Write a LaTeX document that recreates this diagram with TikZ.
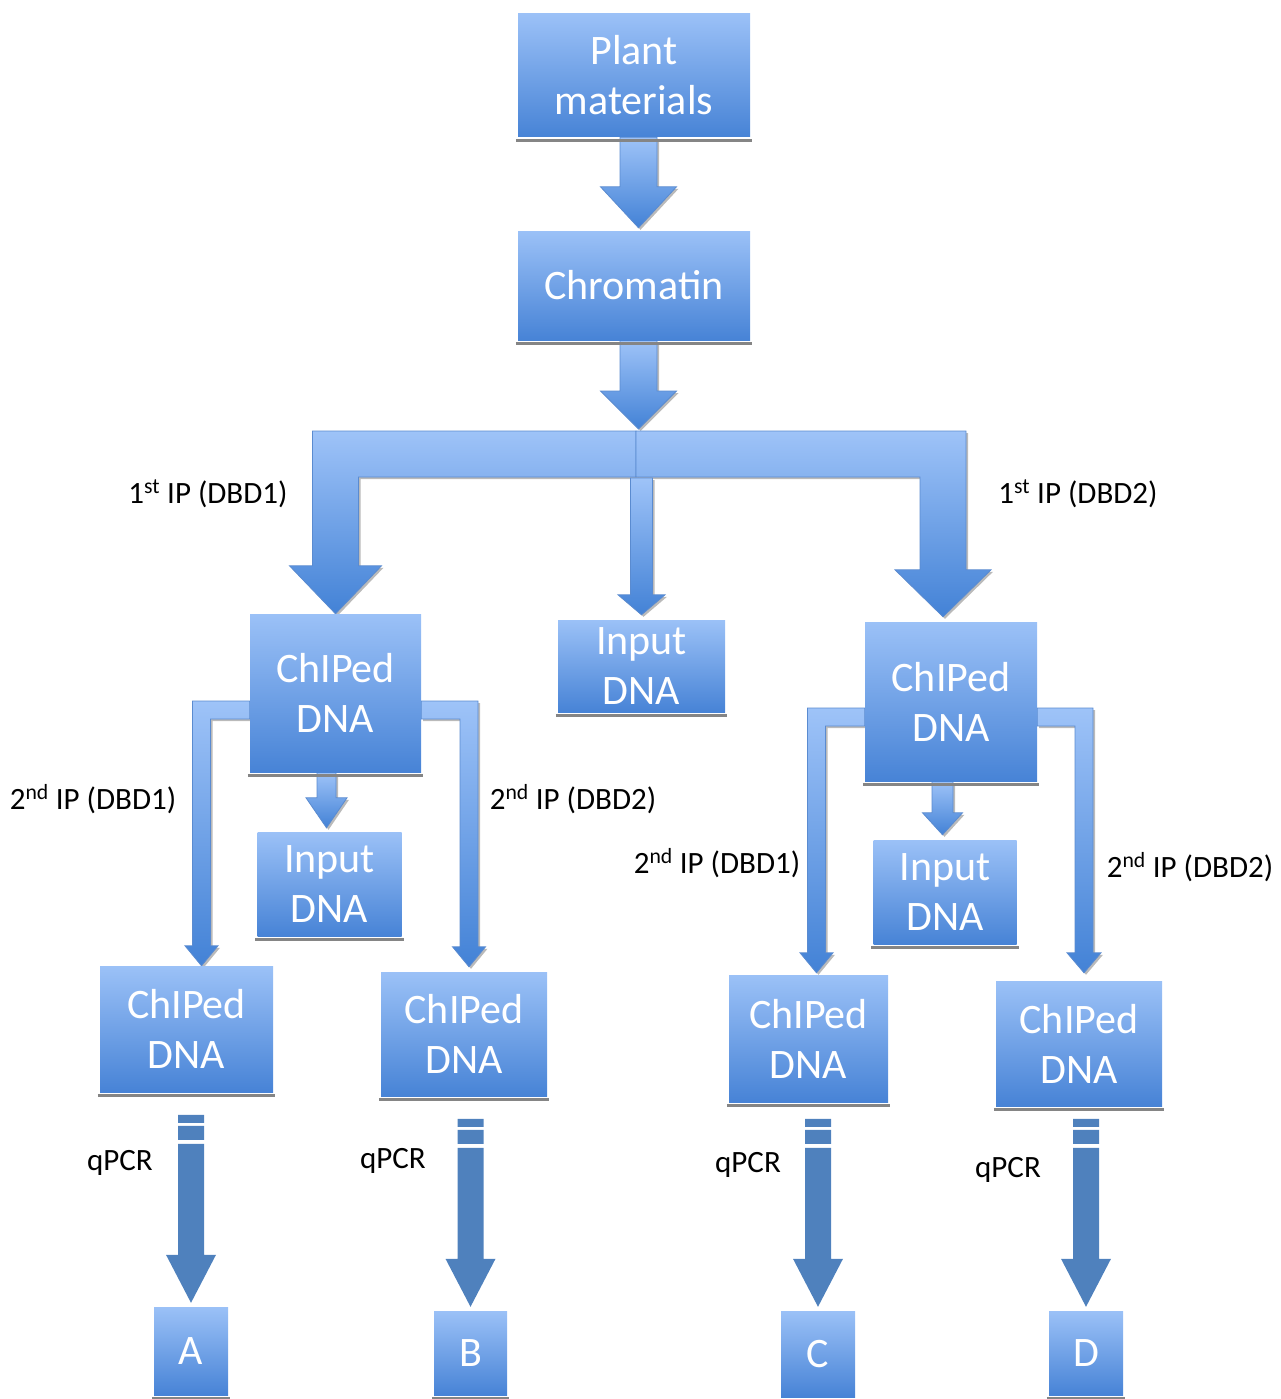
\documentclass[tikz,border=0pt]{standalone}
\usepackage{fontspec}
\setmainfont{Carlito}
\usetikzlibrary{calc,shadows}
\pgfdeclarelayer{bg}
\pgfsetlayers{bg,main}
\definecolor{boxtop}{HTML}{9BC1F7}
\definecolor{boxbot}{HTML}{4783D6}
\definecolor{arrtop}{HTML}{9EC3F8}
\definecolor{arrbot}{HTML}{4382D6}
\definecolor{arrline}{HTML}{5A8BD0}
\definecolor{qcol}{HTML}{4F81BD}
\definecolor{shadowgray}{HTML}{858585}

% straight block arrow: start, tip, half shaft, half head, head length
\newcommand\blockdown[5]{%
  \path[arrowshade] let \p1=(#1), \p2=(#2) in
    ({\x2-#3pt},{\y1}) -- ({\x2+#3pt},{\y1}) -- ({\x2+#3pt},{\y2+#5pt}) --
    ({\x2+#4pt},{\y2+#5pt}) -- (\x2,\y2) -- ({\x2-#4pt},{\y2+#5pt}) --
    ({\x2-#3pt},{\y2+#5pt}) -- cycle;}
% bent block arrow: start (bar centre), tip, sign, half bar, half head, head length
\newcommand\blockbent[6]{%
  \path[arrowshade] let \p1=(#1), \p2=(#2) in
    ({\x1},{\y1+#4pt}) -- ({\x2+(#3)*#4pt},{\y1+#4pt}) -- ({\x2+(#3)*#4pt},{\y2+#6pt}) --
    ({\x2+(#3)*#5pt},{\y2+#6pt}) -- (\x2,\y2) -- ({\x2-(#3)*#5pt},{\y2+#6pt}) --
    ({\x2-(#3)*#4pt},{\y2+#6pt}) -- ({\x2-(#3)*#4pt},{\y1-#4pt}) -- ({\x1},{\y1-#4pt}) -- cycle;}
% qPCR striped arrow: source node, target node
\newcommand\qpcrarrow[2]{%
  \path[fill=qcol] let \p1=(#1.south), \p2=([yshift=4pt]#2.north) in
    ({\x2-13pt},{\y2+188pt}) rectangle ({\x2+13pt},{\y2+180pt})
    ({\x2-13pt},{\y2+177pt}) rectangle ({\x2+13pt},{\y2+163pt})
    ({\x2-13pt},{\y2+159pt}) -- ({\x2+13pt},{\y2+159pt}) -- ({\x2+13pt},{\y2+48pt}) --
    ({\x2+25pt},{\y2+48pt}) -- (\x2,\y2) -- ({\x2-25pt},{\y2+48pt}) -- ({\x2-13pt},{\y2+48pt}) -- cycle;}

\begin{document}
\begin{tikzpicture}[x=1pt,y=-1pt,
  box/.style={rectangle, inner sep=0pt, top color=boxtop, bottom color=boxbot,
    draw=none, text=white, align=center, font=\fontsize{42}{50}\selectfont},
  lbl/.style={anchor=base, inner sep=0pt, text=black, font=\fontsize{31}{36}\selectfont},
  arrowshade/.style={top color=arrtop, bottom color=arrbot, draw=arrline, line width=0.8pt,
    drop shadow={shadow xshift=2pt, shadow yshift=-2pt, opacity=0.45, fill=black!60}},
  sline/.style={draw=shadowgray, line width=3pt}]
\useasboundingbox (0,0) rectangle (1281,1399);

% boxes
\node[box, minimum width=232pt, minimum height=123pt] (pm)  at (634,75.5)   {Plant\\materials};
\node[box, minimum width=232pt, minimum height=109pt] (chr) at (634,285.5)  {Chromatin};
\node[box, minimum width=171pt, minimum height=158pt] (c1)  at (335.5,693)  {ChIPed\\DNA};
\node[box, minimum width=167pt, minimum height=92pt]  (in0) at (641.5,666)  {Input\\DNA};
\node[box, minimum width=172pt, minimum height=159pt] (c2)  at (951,701.5)  {ChIPed\\DNA};
\node[box, minimum width=144pt, minimum height=104pt] (in1) at (329.5,884)  {Input\\DNA};
\node[box, minimum width=143pt, minimum height=104pt] (in2) at (945,892)    {Input\\DNA};
\node[box, minimum width=173pt, minimum height=126pt] (ca)  at (186.5,1029) {ChIPed\\DNA};
\node[box, minimum width=166pt, minimum height=124pt] (cb)  at (464,1034)   {ChIPed\\DNA};
\node[box, minimum width=159pt, minimum height=127pt] (cc)  at (808.5,1038.5) {ChIPed\\DNA};
\node[box, minimum width=166pt, minimum height=125pt] (cd)  at (1079,1043.5) {ChIPed\\DNA};
\node[box, minimum width=74pt, minimum height=88pt]   (A)   at (191,1351)   {A};
\node[box, minimum width=73pt, minimum height=84pt]   (B)   at (470.5,1353) {B};
\node[box, minimum width=74pt, minimum height=86pt]   (C)   at (818,1354)   {C};
\node[box, minimum width=74pt, minimum height=84pt]   (D)   at (1086,1353)  {D};

\foreach \n in {pm,chr,c1,in0,c2,in1,in2,ca,cb,cc,cd,A,B,C,D}
  \draw[sline] ([xshift=-2pt,yshift=-3pt]\n.south west) -- ([xshift=2pt,yshift=-3pt]\n.south east);

\coordinate (split) at (636,454);
\coordinate (splittop) at (638.5,429);

\begin{pgfonlayer}{bg}
  \blockdown{pm.south}{[xshift=4.5pt,yshift=3pt]chr.north}{18.5}{38}{41}
  \blockdown{chr.south}{splittop}{18.5}{38}{38}
  \blockbent{split}{c1.north}{-1}{23}{46}{48}
  \blockbent{split}{[xshift=-8pt,yshift=5pt]c2.north}{1}{23}{48}{47}
  \blockdown{[yshift=-24pt]split}{[yshift=5pt]in0.north}{11}{23.5}{20}
  \blockdown{c1.south}{[xshift=-3pt,yshift=4pt]in1.north}{9.5}{20.5}{30}
  \blockdown{c2.south}{[xshift=-2.5pt,yshift=5pt]in2.north}{10.5}{20}{22}
  \blockbent{[yshift=-17pt]c1.west}{[xshift=15pt]ca.north}{-1}{9}{16.5}{20}
  \blockbent{[yshift=-17pt]c1.east}{[xshift=5pt,yshift=5pt]cb.north}{1}{9}{16.5}{20}
  \blockbent{[yshift=-15.5pt]c2.west}{[xshift=8pt,yshift=2pt]cc.north}{-1}{9}{16.5}{20}
  \blockbent{[yshift=-15.5pt]c2.east}{[xshift=5pt,yshift=8pt]cd.north}{1}{9}{17}{20}
\end{pgfonlayer}

\qpcrarrow{ca}{A}
\qpcrarrow{cb}{B}
\qpcrarrow{cc}{C}
\qpcrarrow{cd}{D}

% labels
\node[lbl] (l1) at (208,503)  {1\textsuperscript{st} IP (DBD1)};
\node[lbl] (l2) at (1078,503) {1\textsuperscript{st} IP (DBD2)};
\node[lbl] (l3) at (93,809)   {2\textsuperscript{nd} IP (DBD1)};
\node[lbl] (l4) at (573,809)  {2\textsuperscript{nd} IP (DBD2)};
\node[lbl] (l5) at (717,873)  {2\textsuperscript{nd} IP (DBD1)};
\node[lbl] (l6) at (1190,877) {2\textsuperscript{nd} IP (DBD2)};
\node[lbl] (q1) at (120,1170) {qPCR};
\node[lbl] (q2) at (393,1168) {qPCR};
\node[lbl] (q3) at (748,1172) {qPCR};
\node[lbl] (q4) at (1008,1177) {qPCR};
\end{tikzpicture}
\end{document}
